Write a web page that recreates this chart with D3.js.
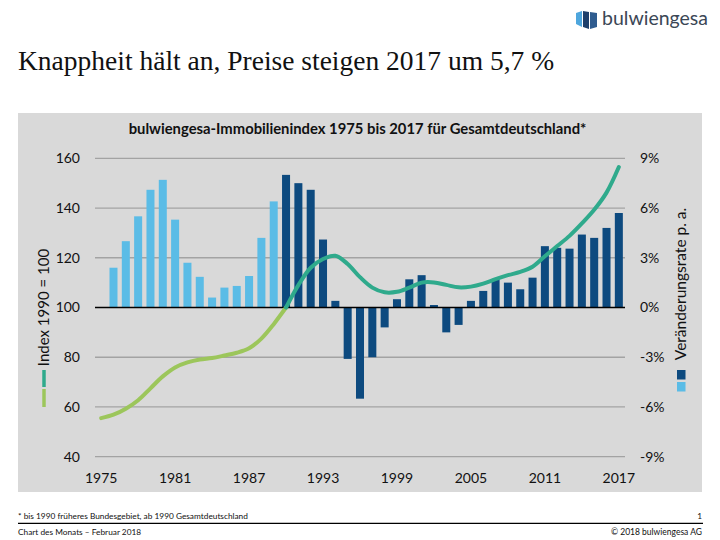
<!DOCTYPE html>
<html>
<head>
<meta charset="utf-8">
<script src="https://cdn.jsdelivr.net/npm/d3@7"></script>
<style>
  html, body { margin: 0; padding: 0; background: #ffffff; }
  svg { display: block; }
</style>
</head>
<body>
<svg id="chart" width="720" height="540"></svg>
<script>
// ---- data ----
const years = [1975,1976,1977,1978,1979,1980,1981,1982,1983,1984,1985,1986,1987,1988,1989,
  1990,1991,1992,1993,1994,1995,1996,1997,1998,1999,2000,2001,2002,2003,2004,2005,2006,2007,
  2008,2009,2010,2011,2012,2013,2014,2015,2016,2017];
// Index 1990 = 100 (line)
const indexValues = [55.5,56.9,59.3,62.7,67.5,72.3,75.9,77.9,79.1,79.7,80.7,81.8,83.6,87.5,93.3,
  100,109.0,116.0,119.5,120.8,117.5,112.2,108.0,106.1,106.3,108.0,110.0,110.1,109.1,108.1,108.4,
  109.6,111.4,113.0,114.3,116.4,120.6,124.7,128.8,133.8,139.3,146.2,156.5];
// Veränderungsrate p. a. in % (bars), 1976-2017
const rateYears = years.slice(1);
const rateValues = [2.4,4.0,5.5,7.1,7.7,5.3,2.7,1.85,0.6,1.2,1.3,1.9,4.2,6.4,
  8.0,7.5,7.1,4.1,0.4,-3.1,-5.5,-3.0,-1.2,0.5,1.7,1.95,0.15,-1.5,-1.05,0.4,1.0,1.7,1.5,1.1,1.8,
  3.7,3.6,3.55,4.4,4.2,4.8,5.7];
const leftTicks = [40,60,80,100,120,140,160];
const rightTicks = [-9,-6,-3,0,3,6,9];
const xTickYears = [1975,1981,1987,1993,1999,2005,2011,2017];
const splitYear = 1990;

// ---- layout ----
const svg = d3.select("#chart");
const font = "Lato, 'Open Sans', sans-serif";
const plot = { left: 95, right: 625, top: 158.3, bottom: 456.7 };
const colLight = "#5bbce6", colDark = "#0d4a7f";
const colGreen = "#9cc65b", colTeal = "#2faa8c";

// Title
svg.append("text").attr("x", 18).attr("y", 70)
  .attr("font-family", "'Liberation Serif', 'Times New Roman', serif")
  .attr("font-size", 27.5).attr("fill", "#111")
  .text("Knappheit hält an, Preise steigen 2017 um 5,7 %");

// Logo
const logo = svg.append("g");
logo.append("path").attr("d", "M576,13 L582,11 L582,27 L576,24 Z").attr("fill", "#4ea6dd");
logo.append("path").attr("d", "M583,11 L589,12 L589,29 L583,27 Z").attr("fill", "#1d3f6b");
logo.append("path").attr("d", "M590,12 L597,13 L597,27 L590,29 Z").attr("fill", "#2f5c8f");
logo.append("text").attr("x", 602).attr("y", 25)
  .attr("font-family", font).attr("font-size", 19.5).attr("fill", "#3b4756")
  .text("bulwiengesa");

// Panel
svg.append("rect").attr("x", 18).attr("y", 113).attr("width", 684).attr("height", 379)
  .attr("fill", "#d9d9d9");

// Chart title
svg.append("text").attr("x", 357.5).attr("y", 134).attr("text-anchor", "middle")
  .attr("font-family", font).attr("font-weight", "bold").attr("font-size", 14.8)
  .attr("fill", "#111")
  .text("bulwiengesa-Immobilienindex 1975 bis 2017 für Gesamtdeutschland*");

// Scales
const x = d3.scaleBand().domain(years).range([plot.left, plot.right])
  .paddingInner(0.35).paddingOuter(0.175);
const yL = d3.scaleLinear().domain([40, 160]).range([plot.bottom, plot.top]);
const yR = d3.scaleLinear().domain([-9, 9]).range([plot.bottom, plot.top]);

// Gridlines
svg.append("g").selectAll("line").data(leftTicks.filter(d => d !== 100)).join("line")
  .attr("x1", plot.left).attr("x2", plot.right)
  .attr("y1", d => yL(d)).attr("y2", d => yL(d))
  .attr("stroke", "#a3a3a3").attr("stroke-width", 1.3);

// Bars
svg.append("g").selectAll("rect").data(rateYears.map((yr, i) => ({ yr, v: rateValues[i] })))
  .join("rect")
  .attr("x", d => x(d.yr)).attr("width", x.bandwidth())
  .attr("y", d => yR(Math.max(0, d.v)))
  .attr("height", d => Math.abs(yR(d.v) - yR(0)))
  .attr("fill", d => d.yr < splitYear ? colLight : colDark);

// Zero line
svg.append("line").attr("x1", plot.left).attr("x2", plot.right)
  .attr("y1", yR(0)).attr("y2", yR(0)).attr("stroke", "#000").attr("stroke-width", 1.4);

// Index line
const pts = years.map((yr, i) => ({ yr, v: indexValues[i] }));
const line = d3.line().x(d => x(d.yr) + x.bandwidth() / 2).y(d => yL(d.v))
  .curve(d3.curveCatmullRom.alpha(0.5));
svg.append("path").datum(pts.filter(d => d.yr <= splitYear)).attr("d", line)
  .attr("fill", "none").attr("stroke", colGreen).attr("stroke-width", 4).attr("stroke-linecap", "round");
svg.append("path").datum(pts.filter(d => d.yr >= splitYear)).attr("d", line)
  .attr("fill", "none").attr("stroke", colTeal).attr("stroke-width", 4).attr("stroke-linecap", "round");

// Axes
function styleAxis(g) {
  g.select(".domain").remove();
  g.selectAll("text").attr("font-family", font).attr("font-size", 14).attr("fill", "#111");
}
svg.append("g").attr("transform", `translate(${plot.left},0)`)
  .call(d3.axisLeft(yL).tickValues(leftTicks).tickSize(0).tickPadding(15))
  .call(styleAxis);
svg.append("g").attr("transform", `translate(${plot.right},0)`)
  .call(d3.axisRight(yR).tickValues(rightTicks).tickSize(0).tickPadding(15).tickFormat(d => d + "%"))
  .call(styleAxis);
svg.append("g").attr("transform", `translate(0,${plot.bottom})`)
  .call(d3.axisBottom(x).tickValues(xTickYears).tickSize(0).tickPadding(16))
  .call(styleAxis);

// Axis titles + legends
svg.append("text").attr("transform", "translate(48.5,307.5) rotate(-90)")
  .attr("text-anchor", "middle").attr("font-family", font).attr("font-size", 15).attr("fill", "#111")
  .text("Index 1990 = 100");
svg.append("line").attr("x1", 44).attr("x2", 44).attr("y1", 370).attr("y2", 387)
  .attr("stroke", colTeal).attr("stroke-width", 3.5);
svg.append("line").attr("x1", 44).attr("x2", 44).attr("y1", 389).attr("y2", 407)
  .attr("stroke", colGreen).attr("stroke-width", 3.5);

svg.append("text").attr("transform", "translate(685.5,284) rotate(-90)")
  .attr("text-anchor", "middle").attr("font-family", font).attr("font-size", 15.5).attr("fill", "#111")
  .text("Veränderungsrate p. a.");
svg.append("rect").attr("x", 677).attr("y", 370).attr("width", 8.5).attr("height", 9.5).attr("fill", colDark);
svg.append("rect").attr("x", 677).attr("y", 382).attr("width", 8.5).attr("height", 9.5).attr("fill", colLight);

// Footer
svg.append("text").attr("x", 18).attr("y", 518.5).attr("font-family", font).attr("font-size", 8.3)
  .attr("fill", "#111").text("* bis 1990 früheres Bundesgebiet, ab 1990 Gesamtdeutschland");
svg.append("text").attr("x", 702).attr("y", 518.5).attr("text-anchor", "end").attr("font-family", font)
  .attr("font-size", 8.3).attr("fill", "#111").text("1");
svg.append("line").attr("x1", 18).attr("x2", 703).attr("y1", 523.3).attr("y2", 523.3)
  .attr("stroke", "#000").attr("stroke-width", 1.2);
svg.append("text").attr("x", 18).attr("y", 535).attr("font-family", font).attr("font-size", 8.3)
  .attr("fill", "#111").text("Chart des Monats – Februar 2018");
svg.append("text").attr("x", 702).attr("y", 535).attr("text-anchor", "end").attr("font-family", font)
  .attr("font-size", 8.5).attr("fill", "#111").text("© 2018 bulwiengesa AG");
</script>
</body>
</html>
